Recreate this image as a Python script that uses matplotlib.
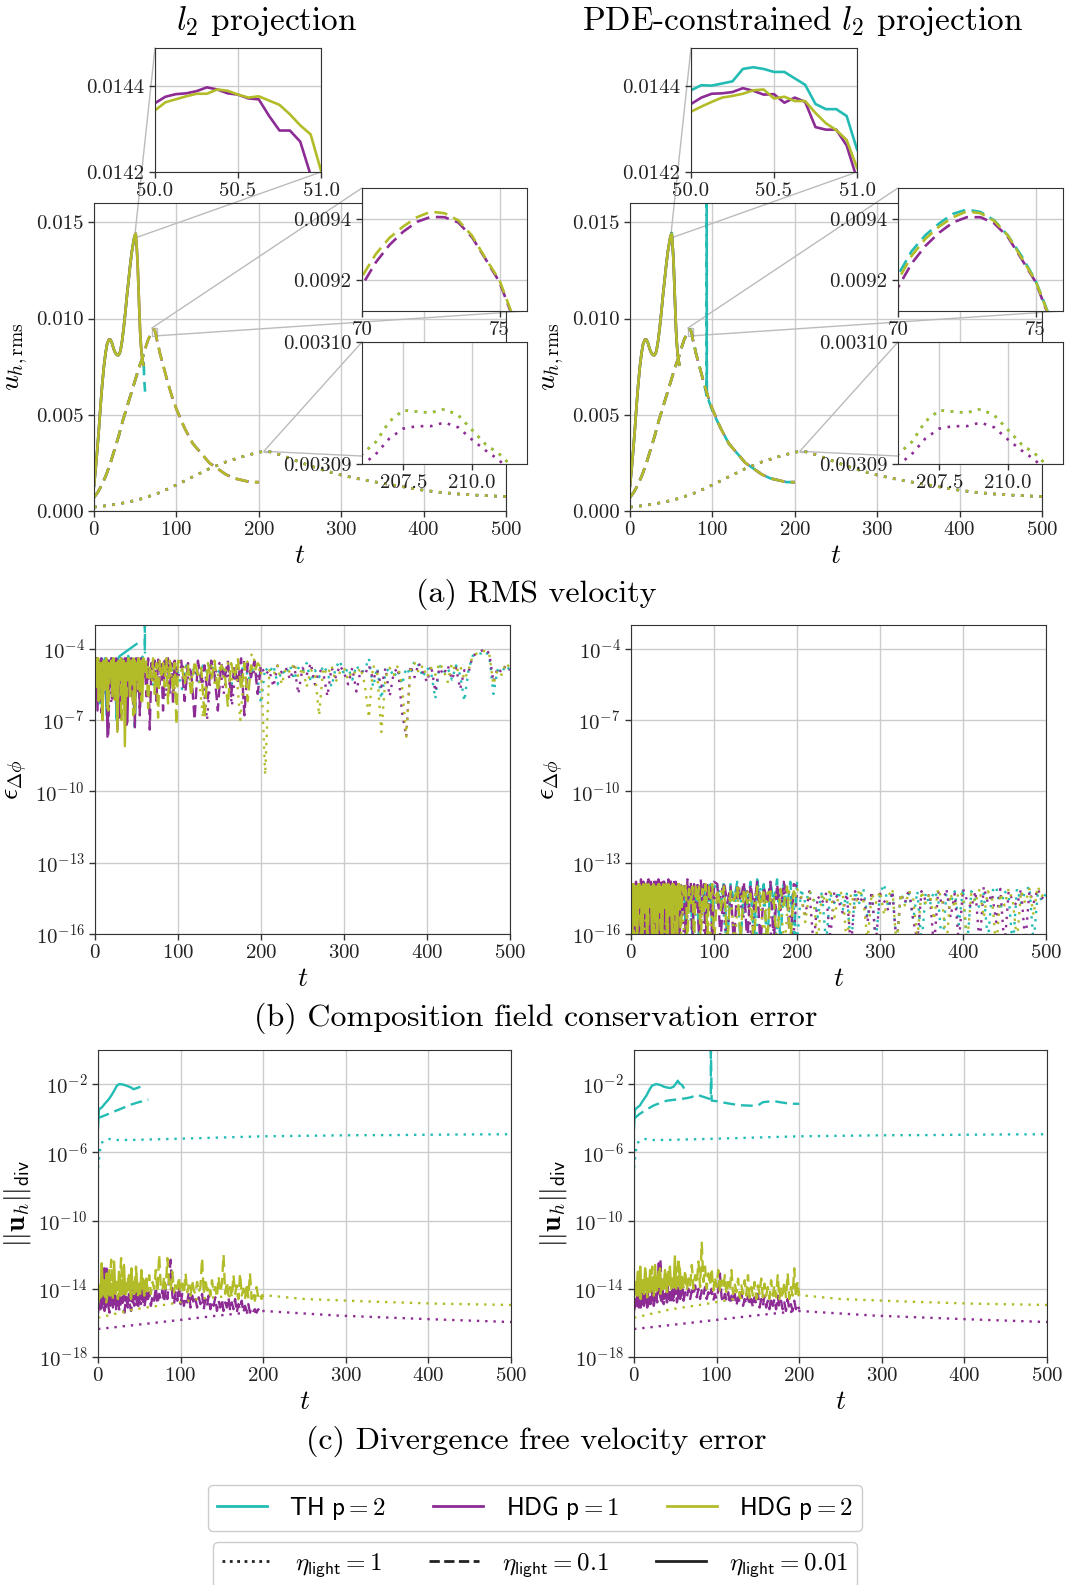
import numpy as np
import matplotlib.pyplot as plt
from matplotlib.lines import Line2D
from matplotlib.patches import ConnectionPatch, Rectangle
from matplotlib.ticker import FormatStrFormatter, NullLocator

plt.rcParams['font.family'] = 'serif'
plt.rcParams['font.serif'] = ['cmr10']
plt.rcParams['mathtext.fontset'] = 'cm'
plt.rcParams['axes.formatter.use_mathtext'] = True

C_TH = '#22bcb4'
C_H1 = '#8c2c94'
C_H2 = '#b2bc28'
DOT = (0, (1, 2.5))
DASH = (0, (5, 2.5))

# ---------------- (a) RMS velocity ----------------
# solid: eta_light = 0.01
rms_sol_t_a = [0, 2, 4, 6, 8, 10, 12, 14, 16, 18, 20, 22, 24, 26, 28, 30, 32, 34, 36, 38, 40, 42, 44, 46, 48, 49]
rms_sol_a = [0.0013, 0.0022, 0.0032, 0.0043, 0.0055, 0.0066, 0.0075, 0.0082, 0.0087, 0.0089, 0.0089, 0.0087, 0.0084,
             0.0082, 0.0081, 0.0081, 0.0083, 0.0088, 0.0095, 0.0103, 0.0112, 0.0120, 0.0128, 0.0135, 0.0140, 0.01425]
rms_sol_t_b = [52, 53, 54, 55, 56, 57, 58, 59, 60]
rms_sol_b = [0.0136, 0.0128, 0.0116, 0.0104, 0.0093, 0.0086, 0.0081, 0.0078, 0.0076]
rms_fine_t = [50.0, 50.0625, 50.125, 50.1875, 50.25, 50.3125, 50.375, 50.4375, 50.5,
              50.5625, 50.625, 50.6875, 50.75, 50.8125, 50.875, 50.9375, 51.0]
l2_fine_h1 = [0.014361, 0.014376, 0.014382, 0.014384, 0.014389, 0.014398, 0.014393, 0.014384, 0.014381,
              0.014372, 0.014370, 0.014331, 0.014297, 0.014297, 0.014271, 0.014193, 0.014150]
l2_fine_h2 = [0.014344, 0.014363, 0.014370, 0.014377, 0.014383, 0.014383, 0.014393, 0.014390, 0.014381,
              0.014374, 0.014377, 0.014367, 0.014357, 0.014335, 0.014309, 0.014288, 0.014203]
pde_fine_th = [0.014391, 0.014403, 0.014402, 0.014407, 0.014412, 0.014441, 0.014445, 0.014441, 0.014434,
               0.014434, 0.014419, 0.014404, 0.014359, 0.014347, 0.014347, 0.014331, 0.014253]
pde_fine_h1 = [0.014359, 0.014374, 0.014383, 0.014384, 0.014387, 0.014396, 0.014390, 0.014381, 0.014382,
               0.014362, 0.014374, 0.014364, 0.014305, 0.014299, 0.014299, 0.014262, 0.014184]
pde_fine_h2 = [0.014341, 0.014353, 0.014364, 0.014374, 0.014378, 0.014383, 0.014391, 0.014393, 0.014372,
               0.014376, 0.014366, 0.014366, 0.014338, 0.014314, 0.014298, 0.014275, 0.014210]

# dashed: eta_light = 0.1
rms_dash_t_a = [0, 5, 10, 15, 20, 25, 30, 35, 40, 45, 50, 55, 60, 63, 66, 68]
rms_dash_a = [0.0007, 0.0010, 0.0014, 0.0019, 0.0025, 0.0032, 0.0039, 0.0047, 0.0054, 0.0061, 0.0068, 0.0075,
              0.0081, 0.00855, 0.00893, 0.00910]
rms_mid_t = [70, 70.5, 71, 71.5, 72, 72.5, 73, 73.5, 74, 74.5, 75, 75.5, 76]
l2_mid_h1 = [0.009183, 0.009258, 0.009315, 0.009358, 0.009390, 0.009406, 0.009405, 0.009388, 0.009340,
             0.009268, 0.009194, 0.009075, 0.008950]
l2_mid_h2 = [0.009212, 0.009285, 0.009338, 0.009375, 0.009405, 0.009423, 0.009418, 0.009395, 0.009345,
             0.009270, 0.009200, 0.009080, 0.008950]
pde_mid_th = [0.009217, 0.009295, 0.009347, 0.009385, 0.009416, 0.009430, 0.009422, 0.009395, 0.009345,
              0.009278, 0.009200, 0.009085, 0.008960]
pde_mid_h1 = [0.009177, 0.009255, 0.009312, 0.009355, 0.009388, 0.009405, 0.009405, 0.009385, 0.009340,
              0.009268, 0.009195, 0.009078, 0.008950]
pde_mid_h2 = [0.009200, 0.009280, 0.009335, 0.009375, 0.009405, 0.009424, 0.009418, 0.009393, 0.009345,
              0.009272, 0.009198, 0.009082, 0.008950]
rms_dash_t_b = [78, 80, 85, 90, 95, 100, 110, 120, 130, 140, 150, 160, 170, 180, 190, 200]
rms_dash_b = [0.0086, 0.0082, 0.0074, 0.0066, 0.0059, 0.0053, 0.0043, 0.0035, 0.0030, 0.0025, 0.0022, 0.0019,
              0.0017, 0.0016, 0.0015, 0.0015]
l2_th_dash_end_t = [61, 62]
l2_th_dash_end = [0.0068, 0.0062]
pde_th_dash_t_b = [78, 80, 85, 90, 93, 93, 93.3, 95, 100, 110, 120, 130, 140, 150, 160, 170, 180, 190, 200]
pde_th_dash_b = [0.0086, 0.0082, 0.0074, 0.0066, 0.0060, 0.0200, 0.0058, 0.0058, 0.0052, 0.0043, 0.0035, 0.0030,
                 0.0025, 0.0022, 0.0019, 0.0017, 0.0016, 0.0015, 0.0015]

# dotted: eta_light = 1
rms_dot_t_a = [0, 20, 40, 60, 80, 100, 120, 140, 160, 180, 190, 196, 200, 203]
rms_dot_a = [0.00020, 0.00030, 0.00045, 0.00066, 0.00096, 0.00135, 0.00178, 0.00220, 0.00255, 0.00282, 0.00294,
             0.00301, 0.00305, 0.003075]
rms_low_t = [206, 206.5, 207, 207.5, 208, 208.5, 209, 209.5, 210, 210.5, 211, 211.5, 212]
rms_low_th_h2 = [0.0030908, 0.0030918, 0.0030935, 0.0030944, 0.0030943, 0.0030942, 0.0030945, 0.0030940,
                 0.0030928, 0.0030916, 0.0030908, 0.0030897, 0.0030885]
rms_low_h1 = [0.0030899, 0.0030908, 0.0030921, 0.0030929, 0.0030931, 0.0030931, 0.0030934, 0.0030930,
              0.0030920, 0.0030911, 0.0030903, 0.0030890, 0.0030878]
rms_dot_t_b = [216, 220, 230, 240, 260, 280, 300, 320, 340, 360, 380, 400, 420, 440, 460, 480, 500]
rms_dot_b = [0.00305, 0.00300, 0.00286, 0.00270, 0.00238, 0.00210, 0.00187, 0.00168, 0.00152, 0.00137, 0.00122,
             0.00108, 0.00097, 0.00089, 0.00083, 0.00079, 0.00075]

# ---------------- (b) composition conservation error, log10 values ----------------
b_l2_h2_dot = [-4.6, -5.1, -4.7, -5.6, -4.8, -5.0, -4.5, -5.8, -4.7, -4.9, -5.3, -4.6, -5.0, -4.7, -5.5, -4.8, -4.6,
               -5.2, -4.7, -5.9, -4.6, -5.0, -4.7, -5.4, -4.8, -5.1, -6.9, -4.9, -4.7, -5.6, -4.8, -5.2, -4.6, -5.3,
               -4.8, -7.0, -4.9, -4.4, -4.2, -5.0, -4.8, -9.3, -4.9, -5.1, -4.7, -5.5, -4.8, -5.0, -4.6, -5.2, -4.8,
               -5.6, -4.9, -5.0, -6.8, -4.8, -5.1, -4.7, -5.4, -5.0, -4.8, -5.3, -4.9, -5.1, -4.8, -5.5, -6.9, -4.7,
               -5.0, -7.5, -5.2, -4.8, -5.1, -4.7, -5.6, -7.7, -4.9, -4.6, -5.0, -4.7, -5.2, -4.8, -5.1, -4.6, -4.9,
               -5.4, -4.6, -5.0, -4.7, -5.3, -4.9, -4.3, -4.2, -4.1, -4.1, -4.2, -5.5, -4.9, -5.1, -4.6, -4.8]
b_l2_h1_dot = [-4.7, -5.4, -4.6, -5.0, -6.3, -4.8, -5.1, -4.6, -5.2, -4.7, -5.0, -5.6, -4.7, -4.9, -5.3, -4.6, -5.1,
               -6.0, -4.7, -4.9, -5.2, -4.6, -5.5, -4.8, -5.0, -4.7, -5.3, -7.0, -4.8, -5.0, -4.6, -5.9, -4.8, -6.4,
               -4.7, -5.2, -4.5, -5.0, -4.8, -5.4, -4.7, -5.1, -4.9, -5.6, -4.7, -5.0, -4.8, -5.3, -4.7, -5.9, -4.8,
               -5.1, -4.6, -5.5, -4.9, -5.0, -6.0, -4.8, -5.2, -4.7, -5.0, -5.5, -4.8, -5.8, -4.9, -5.1, -4.7, -5.3,
               -4.9, -5.6, -4.8, -6.0, -5.0, -4.8, -6.7, -7.7, -4.7, -5.2, -4.6, -5.0, -5.4, -4.7, -5.8, -4.8, -5.1,
               -4.7, -5.3, -4.8, -5.7, -4.9, -5.0, -4.3, -4.2, -4.1, -4.0, -4.2, -5.4, -4.8, -5.0, -4.7, -4.9]
b_l2_th_dot = [-4.8, -5.0, -6.0, -4.7, -5.2, -4.6, -5.4, -4.8, -5.0, -4.6, -5.3, -4.8, -5.1, -4.7, -5.6, -4.9, -5.0,
               -4.6, -5.2, -4.8, -5.0, -5.7, -4.7, -5.1, -4.8, -5.4, -4.7, -5.0, -4.6, -5.2, -4.9, -5.0, -4.7, -5.5,
               -4.8, -5.1, -4.6, -5.3, -4.9, -5.0, -6.3, -4.8, -5.0, -4.7, -5.5, -4.9, -5.1, -4.7, -5.3, -4.8, -5.0,
               -4.6, -5.4, -4.9, -5.2, -4.7, -5.0, -5.6, -4.8, -4.5, -5.1, -4.8, -5.3, -4.7, -5.0, -4.9, -4.4, -5.6,
               -4.8, -6.1, -5.0, -4.8, -5.2, -4.9, -5.5, -4.8, -5.1, -4.5, -4.7, -5.2, -4.8, -5.0, -6.1, -4.7, -5.0,
               -4.8, -5.3, -4.7, -5.1, -6.2, -4.9, -4.3, -4.2, -4.2, -4.1, -4.3, -5.9, -4.9, -5.0, -4.7, -4.9]
b_l2_h2_dash_a = [-4.5, -5.2, -4.4, -6.1, -4.6, -4.9, -5.8, -4.5, -6.6, -4.7, -5.0, -4.4, -6.3, -4.6, -5.5, -4.5,
                  -7.0, -4.6, -4.8, -6.0, -4.4, -5.3, -4.6, -6.8, -4.5, -4.9, -5.7, -4.4, -6.2, -4.6, -5.0, -4.5,
                  -6.5, -4.7, -5.2, -4.4, -5.9, -4.6, -6.9, -4.5, -5.1, -4.6, -5.6, -4.4, -6.3, -4.5, -4.9, -5.8,
                  -4.6, -7.2, -4.5]
b_l2_h2_dash_b = [-4.6, -5.5, -4.7, -6.0, -4.5, -5.1, -4.8, -6.9, -4.6, -5.3, -4.5, -5.8, -4.7, -4.9, -6.4, -4.6,
                  -5.2, -4.4, -5.7, -4.6, -6.2, -4.7, -5.0, -4.6, -4.8]
b_l2_h1_dash_a = [-4.7, -4.4, -5.9, -4.5, -6.7, -4.6, -5.1, -4.4, -7.6, -4.5, -5.4, -4.6, -6.1, -4.4, -5.0, -6.9,
                  -4.5, -5.6, -4.4, -7.2, -4.6, -5.1, -4.5, -6.4, -4.7, -5.8, -4.4, -6.8, -4.5, -5.2, -4.6, -6.0,
                  -4.4, -7.4, -4.6, -5.3, -4.5, -6.2, -4.4, -5.5, -4.6, -6.6, -4.5, -5.0, -4.4, -5.9, -4.6, -6.3,
                  -4.5, -5.2, -4.6]
b_l2_h1_dash_b = [-4.5, -6.2, -4.6, -5.0, -7.0, -4.5, -5.4, -4.7, -6.1, -4.5, -5.1, -6.6, -4.6, -5.3, -4.5, -6.0,
                  -4.7, -5.5, -4.4, -6.8, -4.6, -5.2, -4.5, -5.9, -4.7]
b_l2_th_dash = [-4.6, -5.3, -4.5, -6.0, -4.4, -5.5, -4.6, -6.4, -4.5, -5.0, -4.4, -5.8, -4.5, -6.9, -4.6, -5.2,
                -4.4, -5.7, -4.5, -6.2, -4.3, -5.1, -4.4, -5.6, -7.3, -4.5, -4.4, -6.0, -4.4, -4.3, -4.2]
b_l2_th_spike_t = [60, 60.2]
b_l2_th_spike = [0.0, -4.2]
b_l2_h2_sol = [-4.5, -5.6, -4.4, -6.2, -4.6, -5.0, -7.0, -4.5, -5.4, -4.4, -6.5, -4.6, -5.2, -4.5, -6.0, -4.4, -5.7,
               -4.6, -7.5, -4.5, -5.3, -4.4, -6.3, -4.5, -8.1, -4.6, -5.1, -4.4, -6.0, -4.5, -5.5, -4.4, -6.7, -4.6,
               -5.0, -4.4, -5.8, -4.5, -6.2, -4.4, -4.6]
b_l2_h1_sol = [-4.6, -4.4, -6.6, -4.5, -5.3, -4.4, -7.0, -4.6, -5.1, -4.4, -7.7, -4.5, -5.6, -4.4, -6.1, -4.6, -5.0,
               -4.4, -7.4, -4.5, -5.8, -4.4, -6.3, -4.5, -5.2, -4.4, -7.1, -4.6, -5.5, -4.4, -6.0, -4.5, -7.3, -4.4,
               -5.4, -4.6, -6.5, -4.4, -5.2, -4.5, -4.7]
b_l2_th_sol = [-4.7, -5.5, -4.5, -6.3, -4.6, -5.2, -4.4, -6.8, -4.5, -5.0, -4.4, -5.9, -4.5, -7.0, -4.4, -4.3,
               -4.25, -4.2, -4.15, -4.1, -4.05, -4.0, -3.95, -3.9, -3.85, -3.8]

b_pde_h2_dot = [-14.3, -14.9, -14.1, -16.5, -14.2, -14.6, -15.3, -14.0, -16.4, -14.3, -14.1, -14.8, -14.0, -16.6,
                -14.2, -14.7, -14.1, -15.4, -14.0, -16.3, -14.3, -14.6, -14.1, -15.1, -14.2, -16.5, -14.0, -14.7,
                -14.1, -15.5, -14.3, -14.2, -16.2, -14.1, -14.8, -14.3, -14.6, -16.6, -14.2, -15.0, -14.1, -14.4,
                -15.5, -14.2, -14.6, -16.4, -14.3, -14.7, -14.1, -15.3, -14.4, -14.2, -16.5, -14.3, -14.9, -14.1,
                -14.6, -16.3, -14.3, -14.7, -14.2, -15.2, -14.4, -14.1, -16.6, -14.3, -14.8, -14.2, -14.5, -16.2,
                -14.2, -14.7, -14.3, -15.4, -14.1, -14.6, -16.5, -14.3, -14.9, -14.2, -14.4, -16.4, -14.3, -14.7,
                -14.1, -15.3, -14.2, -14.5, -16.6, -14.3, -14.8, -14.1, -14.6, -16.3, -14.2, -14.7, -14.1, -15.2,
                -14.0, -14.4, -14.2]
b_pde_h1_dot = [-14.1, -14.6, -16.5, -14.0, -15.0, -14.2, -14.5, -16.2, -14.1, -14.7, -14.0, -15.3, -14.2, -16.6,
                -14.1, -14.6, -14.0, -15.1, -16.4, -14.2, -14.4, -14.8, -14.1, -16.5, -14.3, -14.6, -14.1, -15.4,
                -14.2, -16.3, -14.3, -14.7, -14.2, -14.5, -16.6, -14.3, -14.9, -14.1, -14.7, -16.4, -14.3, -14.5,
                -15.2, -14.2, -16.5, -14.4, -14.7, -14.3, -16.2, -14.2, -14.6, -15.1, -14.3, -16.6, -14.2, -14.7,
                -14.4, -15.5, -14.2, -16.4, -14.3, -14.6, -15.0, -14.2, -16.5, -14.3, -14.7, -14.1, -15.4, -16.3,
                -14.2, -14.6, -14.3, -16.6, -14.2, -14.8, -14.1, -15.3, -14.3, -16.4, -14.1, -14.6, -14.9, -14.2,
                -16.5, -14.0, -14.7, -14.3, -15.5, -14.1, -16.6, -14.2, -14.6, -14.8, -14.1, -16.4, -14.2, -14.7,
                -14.1, -14.5, -14.3]
b_pde_th_dot = [-14.2, -16.6, -14.4, -14.7, -14.1, -15.2, -14.3, -14.6, -16.4, -14.2, -14.8, -14.1, -15.5, -14.3,
                -14.6, -16.5, -14.0, -14.9, -14.2, -14.5, -15.6, -14.1, -14.6, -16.3, -14.2, -14.7, -14.1, -15.2,
                -14.3, -14.5, -16.6, -14.0, -14.8, -14.2, -14.6, -16.2, -14.1, -14.5, -15.1, -14.3, -16.5, -14.1,
                -14.7, -14.2, -14.5, -15.3, -14.2, -16.4, -14.3, -14.7, -14.2, -15.0, -14.3, -16.6, -14.2, -14.7,
                -14.1, -15.3, -14.2, -16.3, -14.3, -13.9, -14.9, -14.2, -16.5, -14.3, -14.7, -14.3, -15.4, -14.2,
                -16.4, -14.3, -14.8, -14.2, -14.5, -16.6, -14.3, -14.7, -14.2, -15.6, -14.1, -16.5, -14.2, -14.6,
                -14.9, -14.3, -16.3, -14.2, -14.0, -15.0, -14.2, -14.4, -16.6, -14.1, -14.7, -14.2, -14.0, -16.4,
                -14.3, -14.6, -14.3]
b_pde_h2_dash_a = [-14.2, -13.9, -16.5, -14.0, -14.7, -13.9, -16.4, -14.1, -14.5, -13.9, -16.6, -14.0, -14.9,
                   -13.9, -16.3, -14.1, -14.4, -13.9, -16.5, -14.0, -14.8, -13.9, -16.4, -14.0, -14.6, -13.9,
                   -16.6, -14.1, -15.0, -13.9, -16.2, -14.0, -14.5, -13.9, -16.5, -14.1, -14.7, -14.0, -16.4,
                   -13.9, -14.6, -14.0, -16.6, -14.1, -15.1, -13.9, -16.3, -14.0, -14.5, -13.9, -16.5]
b_pde_h2_dash_b = [-14.1, -15.0, -14.0, -16.4, -14.2, -14.6, -14.0, -16.2, -14.1, -14.7, -14.3, -16.5, -14.0,
                   -14.9, -14.1, -16.3, -14.2, -14.5, -16.6, -14.1, -14.8, -14.0, -16.4, -14.2, -14.4]
b_pde_h1_dash_a = [-14.1, -16.6, -13.9, -15.0, -13.9, -16.4, -13.8, -14.6, -14.0, -16.5, -13.8, -14.9, -13.9,
                   -16.3, -13.8, -14.7, -13.9, -16.6, -13.7, -15.1, -13.8, -16.5, -13.9, -14.6, -13.8, -16.4,
                   -13.7, -14.8, -13.9, -16.6, -13.8, -15.0, -13.9, -16.3, -13.7, -14.6, -13.8, -16.5, -13.9,
                   -14.9, -13.8, -16.4, -13.7, -14.7, -13.9, -16.6, -13.8, -15.0, -13.9, -16.5, -13.8]
b_pde_h1_dash_b = [-13.9, -16.3, -13.8, -14.7, -14.0, -16.5, -13.9, -14.6, -13.8, -16.4, -13.9, -14.9, -13.8,
                   -16.6, -14.0, -14.7, -13.8, -16.4, -13.9, -15.0, -13.8, -14.5, -16.5, -13.9, -14.0]
b_pde_th_dash_a = [-14.3, -14.9, -16.5, -14.2, -14.6, -16.3, -14.1, -14.8, -14.3, -16.6, -14.2, -14.7, -14.1,
                   -16.4, -14.3, -14.5, -14.0, -16.5, -14.2, -14.9, -14.0, -16.2, -14.1, -14.6, -14.2, -16.6,
                   -14.0, -14.8, -14.1, -16.4, -14.2, -14.5, -14.0, -16.5, -14.1, -14.7, -14.0, -16.3, -14.1,
                   -14.6, -14.0, -16.6, -14.1, -14.9, -14.0, -16.4, -14.1, -14.6, -13.9, -16.5, -14.0]
b_pde_th_dash_b = [-14.0, -14.7, -13.8, -16.4, -13.9, -14.6, -13.8, -16.5, -13.9, -14.8, -13.8, -16.3, -13.7,
                   -14.6, -13.9, -16.6, -13.8, -14.7, -13.7, -16.4, -13.9, -14.9, -13.8, -16.5, -13.8]
b_pde_h2_sol = [-14.2, -16.5, -13.9, -15.3, -14.0, -16.4, -13.9, -14.8, -14.0, -16.6, -13.9, -15.1, -14.0, -16.3,
                -13.9, -14.7, -14.0, -16.5, -13.9, -15.0, -14.0, -16.6, -13.9, -14.6, -14.0, -16.4, -13.9, -14.9,
                -14.0, -16.5, -13.9, -15.2, -14.0, -16.3, -13.9, -14.7, -14.0, -16.6, -13.9, -14.8, -14.0]
b_pde_h1_sol = [-14.1, -15.6, -13.9, -16.5, -13.8, -15.0, -13.9, -16.6, -13.7, -15.2, -13.8, -16.3, -13.9, -14.8,
                -13.7, -16.5, -13.8, -15.1, -13.9, -16.4, -13.8, -14.9, -13.7, -16.6, -13.9, -15.3, -13.8, -16.3,
                -13.9, -15.0, -13.7, -16.5, -13.8, -14.8, -13.9, -16.4, -13.8, -15.1, -13.9, -16.6, -14.0]
b_pde_th_sol = [-14.3, -16.6, -14.1, -15.0, -14.2, -16.4, -14.0, -14.7, -14.1, -16.5, -14.0, -14.9, -14.1, -16.3,
                -14.0, -14.8, -14.1, -16.6, -14.0, -14.7, -14.1, -16.4, -14.0, -15.0, -14.1, -16.5, -14.0, -14.6,
                -14.1, -16.3, -14.0]

# ---------------- (c) divergence error, log10 values ----------------
c_th_dot_t = [0, 1, 2, 4, 6, 10, 14, 20, 40, 60, 100, 150, 200, 250, 300, 350, 400, 450, 500]
c_th_dot = [-6.9, -6.5, -6.0, -5.5, -5.35, -5.25, -5.22, -5.28, -5.27, -5.25, -5.2, -5.13, -5.06, -5.03, -5.0,
            -4.99, -4.97, -4.95, -4.94]
c_h2_dot_t = [0, 45, 86, 126, 167, 200, 250, 330, 410, 500]
c_h2_dot = [-15.7, -15.2, -14.9, -14.56, -14.4, -14.37, -14.6, -14.75, -14.87, -14.95]
c_h1_dot_t = [0, 40, 86, 140, 200, 250, 290, 400, 500]
c_h1_dot = [-16.36, -16.15, -15.9, -15.6, -15.3, -15.45, -15.57, -15.78, -15.95]

c_l2_th_sol_t = [0, 1, 2, 5, 8, 12, 16, 20, 23, 26, 30, 35, 40, 43, 46, 49, 50]
c_l2_th_sol = [-4.6, -3.6, -3.45, -3.35, -3.16, -2.95, -2.68, -2.35, -2.08, -2.0, -2.02, -2.1, -2.2, -2.3, -2.25,
               -2.2, -2.18]
c_l2_th_dash_t = [0, 2, 5, 10, 20, 30, 40, 50, 55, 61]
c_l2_th_dash = [-4.0, -3.95, -3.9, -3.8, -3.6, -3.4, -3.2, -3.05, -3.0, -2.9]
c_pde_th_sol_t = [0, 1, 2, 7, 11, 15, 19, 22, 27, 32, 36, 40, 44, 48, 51, 53, 55, 58, 60]
c_pde_th_sol = [-4.6, -3.6, -3.45, -3.26, -2.95, -2.68, -2.3, -2.08, -2.0, -2.05, -2.15, -2.2, -2.23, -2.15,
                -1.95, -1.8, -1.95, -2.05, -2.2]
c_pde_th_dash_t = [0, 7, 15, 23.5, 32, 40, 48, 56.6, 63, 69, 74, 77.3, 81, 85.5, 91.7, 93, 93, 94, 100, 106, 114,
                   122.7, 130, 139, 146, 150, 156, 164, 172, 178, 185, 193, 200]
c_pde_th_dash = [-4.03, -3.74, -3.5, -3.26, -3.1, -2.97, -2.92, -2.87, -2.83, -2.77, -2.68, -2.62, -2.7, -2.77,
                 -2.87, -2.9, 0.5, -2.97, -3.0, -3.06, -3.13, -3.2, -3.24, -3.26, -3.27, -3.25, -3.06, -3.02, -3.02,
                 -3.07, -3.12, -3.15, -3.16]

c_l2_h2_dash = [-14.9, -14.4, -14.7, -13.6, -14.5, -14.8, -14.2, -13.9, -12.3, -14.6, -14.3, -13.8, -14.6, -14.1,
                -12.2, -14.4, -13.9, -14.5, -13.3, -14.2, -14.6, -13.7, -14.3, -12.7, -14.5, -13.9, -14.2, -13.4,
                -14.4, -13.8, -14.1, -13.2, -14.3, -13.6, -14.0, -12.9, -14.2, -12.0, -13.8, -14.1, -13.3, -14.0,
                -12.2, -13.7, -14.1, -13.0, -14.2, -13.6, -14.0, -13.3, -14.2, -13.7, -14.3, -13.1, -14.2, -13.8,
                -14.4, -13.5, -14.1, -14.3, -13.6, -14.2, -13.9, -12.2, -14.3, -13.4, -14.1, -13.8, -14.4, -13.5,
                -14.2, -13.9, -14.5, -13.3, -14.2, -13.7, -12.0, -14.3, -13.6, -14.4, -13.9, -14.5, -13.2, -14.3,
                -13.8, -14.6, -13.1, -14.4, -14.0, -14.6, -13.7, -14.5, -13.1, -14.6, -14.2, -14.7, -13.9, -14.5,
                -14.3, -14.6, -14.4]
c_l2_h1_dash = [-15.4, -14.8, -15.2, -14.6, -15.3, -12.6, -14.9, -15.4, -14.5, -15.1, -13.8, -15.2, -14.7, -15.3,
                -14.6, -15.0, -15.4, -14.5, -15.1, -14.8, -15.3, -14.6, -15.0, -14.4, -15.2, -14.7, -14.9, -14.3,
                -15.1, -14.5, -14.8, -14.2, -15.0, -14.4, -14.7, -13.9, -14.9, -14.3, -14.6, -14.1, -14.8, -14.0,
                -14.6, -13.5, -12.3, -14.4, -14.9, -14.2, -14.7, -13.8, -14.9, -14.3, -15.0, -14.5, -14.8, -14.2,
                -15.1, -14.4, -14.9, -14.6, -15.1, -14.5, -14.9, -14.3, -15.2, -14.6, -15.0, -14.4, -15.2, -14.7,
                -15.0, -14.5, -15.3, -14.7, -15.1, -14.6, -15.3, -14.8, -15.1, -14.5, -15.3, -14.8, -15.2, -14.6,
                -15.4, -14.9, -15.2, -14.7, -15.4, -15.0, -15.3, -14.9, -15.4, -15.1, -15.3, -15.2, -15.4, -15.2,
                -15.3, -15.3, -15.3]
c_l2_h2_sol = [-14.6, -13.8, -14.4, -12.5, -14.2, -13.5, -14.5, -13.1, -14.3, -12.9, -14.4, -13.7, -14.2, -12.4,
               -14.3, -13.6, -14.1, -13.0, -14.4, -13.5, -14.2, -12.6, -14.3, -13.8, -14.1, -13.2, -14.3, -12.8,
               -14.0, -13.6, -14.2, -13.1, -14.1, -13.7, -14.3, -12.9, -14.0, -13.5, -14.2, -13.4, -14.1]
c_l2_h1_sol = [-15.0, -14.6, -15.2, -14.4, -14.9, -12.8, -15.1, -14.5, -14.8, -14.2, -15.0, -14.7, -13.9, -14.9,
               -14.4, -15.0, -14.6, -14.3, -14.9, -14.5, -14.8, -14.2, -14.7, -14.5, -14.9, -14.3, -14.7, -14.1,
               -14.8, -14.4, -14.6, -14.2, -14.8, -14.3, -14.6, -14.0, -14.7, -14.3, -14.5, -14.2, -14.6]
c_pde_h2_dash = [-14.5, -13.9, -14.4, -13.3, -14.6, -13.7, -14.3, -13.0, -14.5, -13.6, -14.2, -12.7, -14.4, -13.5,
                 -14.1, -12.9, -14.3, -13.4, -14.0, -13.1, -14.2, -12.8, -13.9, -13.5, -14.1, -12.7, -13.8, -12.2,
                 -14.0, -13.3, -13.9, -12.9, -14.1, -13.4, -13.8, -12.6, -14.0, -13.2, -13.7, -12.4, -13.9, -11.3,
                 -13.6, -12.7, -14.0, -13.1, -13.8, -12.8, -14.1, -13.3, -13.9, -12.9, -14.2, -13.5, -14.0, -13.2,
                 -14.3, -13.6, -14.1, -12.9, -14.3, -13.7, -14.2, -13.4, -14.5, -13.8, -14.3, -13.5, -14.4, -13.2,
                 -14.5, -13.9, -14.4, -13.6, -14.6, -13.8, -14.3, -13.4, -14.5, -13.7, -14.4, -13.9, -14.6, -13.5,
                 -14.4, -13.8, -14.5, -13.2, -14.6, -13.9, -14.3, -13.6, -14.5, -13.1, -14.6, -13.9, -14.4, -12.8,
                 -14.5, -13.6, -14.4]
c_pde_h1_dash = [-15.3, -14.8, -15.2, -14.5, -15.1, -14.7, -15.0, -14.3, -15.1, -14.6, -14.9, -14.4, -15.0, -14.2,
                 -14.8, -14.5, -12.3, -14.7, -14.9, -14.3, -14.8, -14.2, -14.9, -14.4, -14.7, -13.9, -14.8, -14.3,
                 -14.6, -14.1, -14.7, -14.2, -14.5, -14.0, -14.6, -14.1, -14.4, -13.8, -14.5, -14.0, -14.6, -14.1,
                 -14.4, -13.9, -14.6, -14.2, -14.5, -14.0, -14.7, -14.3, -14.6, -14.1, -13.1, -14.5, -14.8, -14.3,
                 -14.7, -14.2, -14.9, -14.4, -14.8, -14.3, -15.0, -14.5, -14.8, -14.2, -15.0, -14.6, -14.9, -14.4,
                 -15.0, -14.6, -15.1, -14.5, -14.9, -14.3, -15.1, -14.6, -15.0, -14.4, -15.1, -14.7, -15.2, -14.5,
                 -15.0, -14.6, -15.2, -14.4, -15.1, -14.7, -15.2, -14.8, -15.3, -14.6, -15.2, -14.9, -15.3, -14.7,
                 -15.2, -14.9, -15.2]
c_pde_h2_sol = [-14.5, -13.6, -14.3, -13.0, -14.4, -12.7, -14.2, -13.5, -14.3, -12.8, -14.1, -13.4, -14.2, -12.9,
                -14.0, -13.6, -14.2, -12.6, -14.1, -13.3, -13.9, -12.8, -14.1, -13.5, -13.9, -12.9, -14.0, -13.2,
                -13.8, -12.7, -14.0, -13.4, -13.9, -12.1, -14.0, -13.3, -13.8, -12.8, -14.0, -13.5, -13.9]
c_pde_h1_sol = [-15.2, -14.6, -15.0, -14.3, -15.1, -14.5, -14.9, -13.9, -15.0, -14.4, -14.8, -14.1, -14.9, -14.5,
                -14.7, -14.0, -14.8, -14.3, -14.6, -14.2, -12.5, -14.4, -14.7, -14.1, -14.6, -14.3, -14.5, -13.8,
                -14.6, -14.2, -14.4, -14.0, -14.5, -14.2, -14.3, -13.9, -14.5, -14.1, -14.3, -14.0, -14.4]

# ---------------- figure ----------------
W, H = 1066, 1585
fig = plt.figure(figsize=(W / 100, H / 100), dpi=100)


def add_ax(x0, y0, x1, y1):
    return fig.add_axes([x0 / W, 1 - y1 / H, (x1 - x0) / W, (y1 - y0) / H])


def style(ax):
    ax.grid(True, color='#cccccc', lw=1)
    ax.set_axisbelow(True)
    for s in ax.spines.values():
        s.set_color('#333333')
    ax.tick_params(labelsize=15, length=4, width=1, color='#333333', labelcolor='#222222')


def grid_t(t0, t1, vals):
    return np.linspace(t0, t1, len(vals))


def rms_panel(box, series, insets):
    ax = add_ax(*box)
    style(ax)
    for t, u, c, ls in series:
        ax.plot(t, u, color=c, ls=ls, lw=1.9)
    ax.set_xlim(0, 500)
    ax.set_ylim(0, 0.016)
    ax.set_xticks([0, 100, 200, 300, 400, 500])
    ax.set_yticks([0, 0.005, 0.010, 0.015])
    ax.yaxis.set_major_formatter(FormatStrFormatter('%.3f'))
    ax.set_xlabel('$t$', fontsize=20, labelpad=2)
    ax.set_ylabel(r'$u_{h,\mathrm{rms}}$', fontsize=20)
    for ibox, xl, yl, xt, yt, fx, fy in insets:
        axi = add_ax(*ibox)
        style(axi)
        axi.set_facecolor('white')
        for t, u, c, ls in series:
            axi.plot(t, u, color=c, ls=ls, lw=1.9)
        axi.set_xlim(xl)
        axi.set_ylim(yl)
        axi.set_xticks(xt)
        axi.set_yticks(yt)
        axi.xaxis.set_major_formatter(FormatStrFormatter(fx))
        axi.yaxis.set_major_formatter(FormatStrFormatter(fy))
        ax.add_patch(Rectangle((xl[0], yl[0]), xl[1] - xl[0], yl[1] - yl[0], fill=False, ec='#bbbbbb', lw=1))
        for pa, pb in [((xl[0], yl[1]), (0, 1)), ((xl[1], yl[0]), (1, 0))]:
            con = ConnectionPatch(xyA=pa, coordsA=ax.transData, xyB=pb, coordsB=axi.transAxes,
                                  color='#bbbbbb', lw=1)
            con.set_clip_on(False)
            ax.add_artist(con)
    return ax


def log_panel(box, series, yticks, ylim, ylabel):
    ax = add_ax(*box)
    style(ax)
    ax.set_yscale('log')
    for t, v, c, ls in series:
        ax.plot(t, 10.0 ** np.asarray(v), color=c, ls=ls, lw=1.7)
    ax.set_xlim(0, 500)
    ax.set_ylim(*ylim)
    ax.set_xticks([0, 100, 200, 300, 400, 500])
    ax.set_yticks(yticks)
    ax.yaxis.set_minor_locator(NullLocator())
    ax.set_xlabel('$t$', fontsize=20, labelpad=2)
    ax.set_ylabel(ylabel, fontsize=20)
    return ax


# (a) series
sol_t = rms_sol_t_a + rms_fine_t + rms_sol_t_b
dash_t = rms_dash_t_a + rms_mid_t + rms_dash_t_b
dot_t = rms_dot_t_a + rms_low_t + rms_dot_t_b
dot_th_h2 = rms_dot_a + rms_low_th_h2 + rms_dot_b
dot_h1 = rms_dot_a + rms_low_h1 + rms_dot_b

l2_series = [
    (dot_t, dot_th_h2, C_TH, DOT),
    (rms_dash_t_a[:13] + l2_th_dash_end_t, rms_dash_a[:13] + l2_th_dash_end, C_TH, DASH),
    (rms_sol_t_a, rms_sol_a, C_TH, '-'),
    (dot_t, dot_h1, C_H1, DOT),
    (dash_t, rms_dash_a + l2_mid_h1 + rms_dash_b, C_H1, DASH),
    (sol_t, rms_sol_a + l2_fine_h1 + rms_sol_b, C_H1, '-'),
    (dot_t, dot_th_h2, C_H2, DOT),
    (dash_t, rms_dash_a + l2_mid_h2 + rms_dash_b, C_H2, DASH),
    (sol_t, rms_sol_a + l2_fine_h2 + rms_sol_b, C_H2, '-'),
]
pde_series = [
    (dot_t, dot_th_h2, C_TH, DOT),
    (rms_dash_t_a + rms_mid_t + pde_th_dash_t_b, rms_dash_a + pde_mid_th + pde_th_dash_b, C_TH, DASH),
    (sol_t, rms_sol_a + pde_fine_th + rms_sol_b, C_TH, '-'),
    (dot_t, dot_h1, C_H1, DOT),
    (dash_t, rms_dash_a + pde_mid_h1 + rms_dash_b, C_H1, DASH),
    (sol_t, rms_sol_a + pde_fine_h1 + rms_sol_b, C_H1, '-'),
    (dot_t, dot_th_h2, C_H2, DOT),
    (dash_t, rms_dash_a + pde_mid_h2 + rms_dash_b, C_H2, DASH),
    (sol_t, rms_sol_a + pde_fine_h2 + rms_sol_b, C_H2, '-'),
]


def inset_specs(dx):
    return [
        ((155 + dx, 48, 321 + dx, 172), (50, 51), (0.0142, 0.01449), [50.0, 50.5, 51.0], [0.0142, 0.0144],
         '%.1f', '%.4f'),
        ((362 + dx, 188, 527 + dx, 311), (70, 76), (0.0091, 0.0095), [70, 75], [0.0092, 0.0094], '%d', '%.4f'),
        ((362 + dx, 342, 527 + dx, 464), (206, 212), (0.00309, 0.00310), [207.5, 210.0], [0.00309, 0.00310],
         '%.1f', '%.5f'),
    ]


rms_panel((94, 203, 506, 511), l2_series, inset_specs(0))
rms_panel((630, 203, 1042, 511), pde_series, inset_specs(536))


# (b) series
def b_series(th_sol, th_dash, th_dash_b, h1, h2, th_dot, h1_dot, h2_dot, spike):
    s = [(grid_t(0, 500, th_dot), th_dot, C_TH, DOT)]
    if th_dash_b is None:
        s.append((list(grid_t(0, 60, th_dash)) + spike[0], th_dash + spike[1], C_TH, DASH))
        s.append((grid_t(0, 50, th_sol), th_sol, C_TH, '-'))
    else:
        s.append((np.r_[grid_t(0, 100, th_dash), grid_t(104, 200, th_dash_b)], th_dash + th_dash_b, C_TH, DASH))
        s.append((grid_t(0, 60, th_sol), th_sol, C_TH, '-'))
    for (sol, da, db), dot, c in [(h1, h1_dot, C_H1), (h2, h2_dot, C_H2)]:
        s.append((grid_t(0, 500, dot), dot, c, DOT))
        s.append((np.r_[grid_t(0, 100, da), grid_t(104, 200, db)], da + db, c, DASH))
        s.append((grid_t(0, 60, sol), sol, c, '-'))
    return s


b_l2 = b_series(b_l2_th_sol, b_l2_th_dash, None,
                (b_l2_h1_sol, b_l2_h1_dash_a, b_l2_h1_dash_b), (b_l2_h2_sol, b_l2_h2_dash_a, b_l2_h2_dash_b),
                b_l2_th_dot, b_l2_h1_dot, b_l2_h2_dot, (b_l2_th_spike_t, b_l2_th_spike))
b_pde = b_series(b_pde_th_sol, b_pde_th_dash_a, b_pde_th_dash_b,
                 (b_pde_h1_sol, b_pde_h1_dash_a, b_pde_h1_dash_b), (b_pde_h2_sol, b_pde_h2_dash_a, b_pde_h2_dash_b),
                 b_pde_th_dot, b_pde_h1_dot, b_pde_h2_dot, None)
b_ticks = [1e-4, 1e-7, 1e-10, 1e-13, 1e-16]
log_panel((95, 625, 510, 934), b_l2, b_ticks, (1e-16, 1e-3), r'$\epsilon_{\Delta\phi}$')
log_panel((631, 625, 1046, 934), b_pde, b_ticks, (1e-16, 1e-3), r'$\epsilon_{\Delta\phi}$')


# (c) series
def c_series(th_sol_t, th_sol, th_dash_t, th_dash, h1_sol, h1_dash, h2_sol, h2_dash):
    return [
        (c_th_dot_t, c_th_dot, C_TH, DOT),
        (th_dash_t, th_dash, C_TH, DASH),
        (th_sol_t, th_sol, C_TH, '-'),
        (c_h1_dot_t, c_h1_dot, C_H1, DOT),
        (grid_t(0, 200, h1_dash), h1_dash, C_H1, DASH),
        (grid_t(0, 60, h1_sol), h1_sol, C_H1, '-'),
        (c_h2_dot_t, c_h2_dot, C_H2, DOT),
        (grid_t(0, 200, h2_dash), h2_dash, C_H2, DASH),
        (grid_t(0, 60, h2_sol), h2_sol, C_H2, '-'),
    ]


c_ticks = [1e-2, 1e-6, 1e-10, 1e-14, 1e-18]
c_lab = r'$||\mathbf{u}_h||_{\mathsf{div}}$'
log_panel((98, 1050, 511, 1357),
          c_series(c_l2_th_sol_t, c_l2_th_sol, c_l2_th_dash_t, c_l2_th_dash,
                   c_l2_h1_sol, c_l2_h1_dash, c_l2_h2_sol, c_l2_h2_dash), c_ticks, (1e-18, 1.0), c_lab)
log_panel((634, 1050, 1047, 1357),
          c_series(c_pde_th_sol_t, c_pde_th_sol, c_pde_th_dash_t, c_pde_th_dash,
                   c_pde_h1_sol, c_pde_h1_dash, c_pde_h2_sol, c_pde_h2_dash), c_ticks, (1e-18, 1.0), c_lab)

# titles and captions
fig.text(267 / W, 1 - 21 / H, r'$l_2$ projection', fontsize=24, ha='center', va='center')
fig.text(803 / W, 1 - 21 / H, r'PDE-constrained $l_2$ projection', fontsize=24, ha='center', va='center')
fig.text(536 / W, 1 - 594 / H, '(a) RMS velocity', fontsize=23, ha='center', va='center')
fig.text(536 / W, 1 - 1018 / H, '(b) Composition field conservation error', fontsize=23, ha='center', va='center')
fig.text(536 / W, 1 - 1441 / H, '(c) Divergence free velocity error', fontsize=23, ha='center', va='center')

# legends
method_labels = [r'$\mathsf{TH\ p} = 2$', r'$\mathsf{HDG\ p} = 1$', r'$\mathsf{HDG\ p} = 2$']
eta_labels = [r'$\eta_{\mathsf{light}} = 1$', r'$\eta_{\mathsf{light}} = 0.1$', r'$\eta_{\mathsf{light}} = 0.01$']
h_methods = [Line2D([], [], color=c, lw=2) for c in (C_TH, C_H1, C_H2)]
h_eta = [Line2D([], [], color='#222222', lw=2, ls=ls) for ls in (':', '--', '-')]
leg_kw = dict(ncol=3, fontsize=18, handlelength=2.0, columnspacing=1.9, handletextpad=0.9, borderpad=0.35,
              frameon=True, fancybox=True, edgecolor='#cccccc', framealpha=1, loc='center')
fig.legend(h_methods, method_labels, bbox_to_anchor=(535 / W, 1 - 1508 / H), **leg_kw)
fig.legend(h_eta, eta_labels, bbox_to_anchor=(535 / W, 1 - 1565 / H), **leg_kw)

fig.savefig('out.png', dpi=100)
